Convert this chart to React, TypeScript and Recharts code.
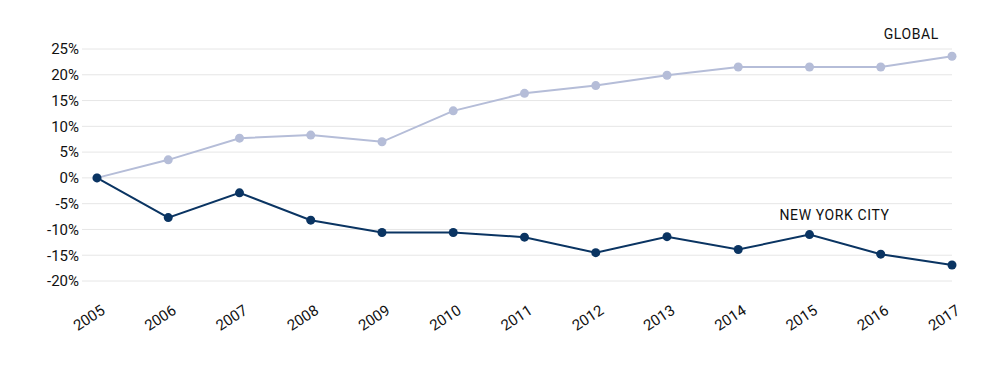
import React from 'react'
import { LineChart, Line, XAxis, YAxis, CartesianGrid } from 'recharts'

const years = ['2005', '2006', '2007', '2008', '2009', '2010', '2011', '2012', '2013', '2014', '2015', '2016', '2017']
const globalValues = [0, 3.5, 7.7, 8.3, 7.0, 13.0, 16.4, 17.9, 19.9, 21.5, 21.5, 21.5, 23.6]
const nycValues = [0, -7.7, -2.9, -8.2, -10.6, -10.6, -11.5, -14.5, -11.4, -13.9, -11.0, -14.8, -16.9]
const yTicks = [-20, -15, -10, -5, 0, 5, 10, 15, 20, 25]

const data = years.map((year, i) => ({
  year,
  global: globalValues[i],
  nyc: nycValues[i]
}))

const font = 'Roboto, "DejaVu Sans", sans-serif'

const YearTick = (props: any) => {
  const { x, y, payload } = props
  return (
    <text
      transform={`translate(${x + 9},${y + 24}) rotate(-33)`}
      textAnchor="end"
      fontSize={15}
      fontFamily={font}
      fill="#111"
    >
      {payload.value}
    </text>
  )
}

const SeriesLabel = (text: string, index: number, dx: number, dy: number, anchor: string) => (props: any) => {
  if (props.index !== index) return null
  return (
    <text
      key={text}
      x={props.x + dx}
      y={props.y + dy}
      textAnchor={anchor}
      fontSize={14}
      fontFamily={font}
      letterSpacing={0.6}
      fill="#111"
    >
      {text}
    </text>
  )
}

const App: React.FC = () => {
  return (
    <LineChart
      width={984}
      height={349}
      data={data}
      margin={{ top: 41, right: 40, bottom: 16, left: 0 }}
    >
      <CartesianGrid vertical={false} stroke="#e6e6e6" />
      <XAxis
        dataKey="year"
        axisLine={false}
        tickLine={false}
        interval={0}
        height={60}
        padding={{ left: 15, right: 0 }}
        tick={<YearTick />}
      />
      <YAxis
        type="number"
        domain={[-20, 25]}
        ticks={yTicks}
        axisLine={false}
        tickLine={false}
        tickSize={3}
        tickMargin={0}
        width={74}
        tickFormatter={(v: number) => `${v}%`}
        tick={{ fontSize: 15, fontFamily: font, fill: '#111' }}
      />
      <Line
        dataKey="global"
        stroke="#b5bdd8"
        strokeWidth={2}
        dot={{ r: 4.5, fill: '#b5bdd8', stroke: '#b5bdd8', strokeWidth: 0 }}
        isAnimationActive={false}
        label={SeriesLabel('GLOBAL', 12, -13, -17, 'end')}
      />
      <Line
        dataKey="nyc"
        stroke="#0a3462"
        strokeWidth={2}
        dot={{ r: 4.5, fill: '#0a3462', stroke: '#0a3462', strokeWidth: 0 }}
        isAnimationActive={false}
        label={SeriesLabel('NEW YORK CITY', 10, -30, -15, 'start')}
      />
    </LineChart>
  )
}

export default App
